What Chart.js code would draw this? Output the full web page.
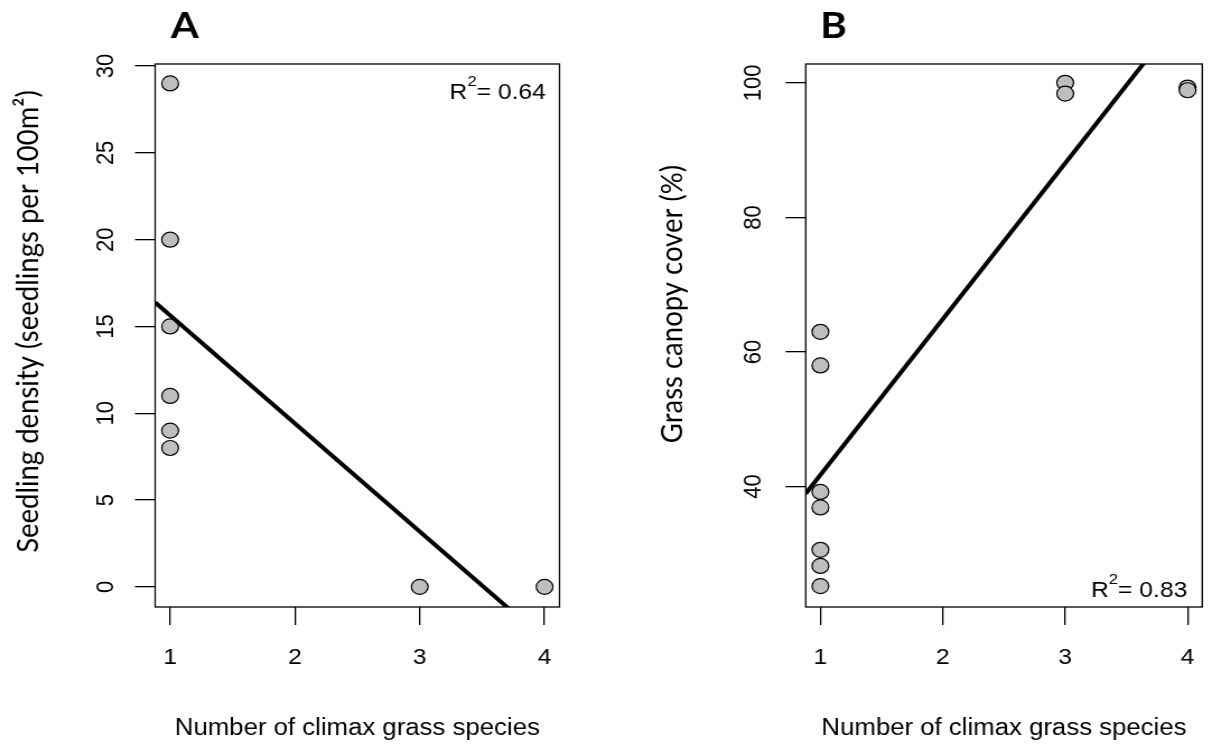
<!DOCTYPE html>
<html>
<head>
<meta charset="utf-8">
<title>Climax grass species</title>
<script src="https://cdn.jsdelivr.net/npm/chart.js@4.4.1/dist/chart.umd.min.js"></script>
<style>
    html, body { margin: 0; padding: 0; background: #fff; overflow: hidden; }
    #wrap { position: relative; width: 1212px; height: 745px; overflow: hidden; }
    /* the reference is stretched sideways, so the canvases are too */
    #wrap canvas { position: absolute; top: 0; width: 606px !important; height: 745px !important; }
    #chartA { left: 0; }
    #chartB { left: 606px; }
</style>
</head>
<body>
<div id="wrap">
    <canvas id="chartA" width="541" height="745"></canvas>
    <canvas id="chartB" width="541" height="745"></canvas>
</div>
<script>
// Shared x axis
const speciesTicks = [1, 2, 3, 4];
const speciesRange = [0.88, 4.12];

// Panel A: seedling density
const seedX = [1, 1, 1, 1, 1, 1, 3, 4];
const seedY = [29, 20, 15, 11, 9, 8, 0, 0];
const seedTicks = [0, 5, 10, 15, 20, 25, 30];
const seedRange = [-1.16, 30.12];
const seedFit = [21.87, -6.227];   // intercept, slope
const seedR2 = '0.64';

// Panel B: grass canopy cover
const coverX = [1, 1, 1, 1, 1, 1, 1, 3, 3, 4, 4];
const coverY = [63, 58, 39.2, 36.9, 30.6, 28.2, 25.2, 100, 98.4, 99.3, 98.9];
const coverTicks = [40, 60, 80, 100];
const coverRange = [22.1, 102.8];
const coverFit = [18.57, 23.16];   // intercept, slope
const coverR2 = '0.83';

const AREA_TOP = 64;
const AREA_BOTTOM = 607;
const AXIS_FONT = 'Liberation Sans';
const TITLE_FONT = 'Lato';

// R^2 label with a raised 2
function drawR2(ctx, value, right, baseline) {
    const main = '22px "' + AXIS_FONT + '"';
    const sup = '15px "' + AXIS_FONT + '"';
    const tail = '= ' + value;
    ctx.font = main;
    const wR = ctx.measureText('R').width;
    const wTail = ctx.measureText(tail).width;
    ctx.font = sup;
    const wSup = ctx.measureText('2').width;
    const x = right - wTail - wSup - wR;
    ctx.textAlign = 'left';
    ctx.textBaseline = 'alphabetic';
    ctx.font = main;
    ctx.fillText('R', x, baseline);
    ctx.font = sup;
    ctx.fillText('2', x + wR, baseline - 13);
    ctx.font = main;
    ctx.fillText(tail, x + wR + wSup, baseline);
}

// Box, panel letter, y title and R^2 (R base-graphics look)
const panelDecor = {
    id: 'panelDecor',
    afterDraw(chart, args, opts) {
        const { ctx, chartArea: a } = chart;
        ctx.save();
        ctx.strokeStyle = '#000';
        ctx.lineWidth = 1.3;
        ctx.strokeRect(a.left, a.top, a.right - a.left, a.bottom - a.top);

        ctx.fillStyle = '#000';
        ctx.textAlign = 'center';
        ctx.textBaseline = 'middle';
        ctx.font = 'bold 36px ' + TITLE_FONT;
        ctx.fillText(opts.letter, a.left + opts.letterDx, 26);

        ctx.save();
        ctx.translate(a.left - opts.titleDx, opts.titleY);
        ctx.rotate(-Math.PI / 2);
        ctx.font = '27.5px ' + TITLE_FONT;
        ctx.fillText(opts.yTitle, 0, 0);
        ctx.restore();

        const base = opts.r2Top ? a.top + opts.r2Dy : a.bottom - opts.r2Dy;
        drawR2(ctx, opts.r2, a.right - opts.r2Dx, base);
        ctx.restore();
    }
};

function makePanel(p) {
    const canvas = document.getElementById(p.id);
    const width = canvas.width;
    const [a, b] = p.fit;
    const fitLine = speciesRange.map(x => ({ x: x, y: a + b * x }));
    const points = p.xs.map((x, i) => ({ x: x, y: p.ys[i] }));
    const tickGrid = { drawOnChartArea: false, drawTicks: true, tickLength: 18, color: '#000', lineWidth: 1.3 };

    return new Chart(canvas, {
        type: 'scatter',
        data: {
            datasets: [
                {
                    data: fitLine,
                    showLine: true,
                    borderColor: '#000',
                    borderWidth: 4,
                    pointRadius: 0,
                    clip: 0
                },
                {
                    data: points,
                    pointRadius: 7.5,
                    pointBackgroundColor: '#bebebe',
                    pointBorderColor: '#000',
                    pointBorderWidth: 1.2
                }
            ]
        },
        options: {
            responsive: false,
            animation: false,
            events: [],
            layout: { padding: { left: 0, top: AREA_TOP, right: width - p.areaRight, bottom: 0 } },
            plugins: {
                legend: { display: false },
                tooltip: { enabled: false },
                panelDecor: p.decor
            },
            scales: {
                x: {
                    type: 'linear',
                    min: speciesRange[0],
                    max: speciesRange[1],
                    afterBuildTicks: s => { s.ticks = speciesTicks.map(v => ({ value: v })); },
                    afterFit: s => {
                        s.height = canvas.height - AREA_BOTTOM;
                        s.paddingLeft = 0;
                        s.paddingRight = 0;
                    },
                    grid: tickGrid,
                    border: { display: false },
                    ticks: {
                        color: '#000',
                        font: { family: AXIS_FONT, size: 22 },
                        padding: 20,
                        maxRotation: 0,
                        autoSkip: false
                    },
                    title: {
                        display: true,
                        text: 'Number of climax grass species',
                        color: '#000',
                        font: { family: AXIS_FONT, size: 23 },
                        padding: { top: 0, bottom: 3 }
                    }
                },
                y: {
                    type: 'linear',
                    min: p.range[0],
                    max: p.range[1],
                    afterBuildTicks: s => { s.ticks = p.ticks.map(v => ({ value: v })); },
                    afterFit: s => {
                        s.width = p.areaLeft;
                        s.paddingTop = 0;
                        s.paddingBottom = 0;
                    },
                    grid: tickGrid,
                    border: { display: false },
                    ticks: {
                        color: '#000',
                        font: { family: AXIS_FONT, size: 22 },
                        padding: p.yLabelPad,
                        minRotation: 90,
                        maxRotation: 90,
                        crossAlign: 'center',
                        autoSkip: false
                    }
                }
            }
        },
        plugins: [panelDecor]
    });
}

document.addEventListener('DOMContentLoaded', () => {
    makePanel({
        id: 'chartA',
        xs: seedX, ys: seedY, ticks: seedTicks, range: seedRange, fit: seedFit,
        areaLeft: 138.5, areaRight: 499.5, yLabelPad: 13,
        decor: {
            letter: 'A', letterDx: 26.5,
            yTitle: 'Seedling density (seedlings per 100m²)', titleDx: 113, titleY: 321.5,
            r2: seedR2, r2Top: true, r2Dx: 12.2, r2Dy: 35
        }
    });
    makePanel({
        id: 'chartB',
        xs: coverX, ys: coverY, ticks: coverTicks, range: coverRange, fit: coverFit,
        areaLeft: 178.3, areaRight: 539, yLabelPad: 10,
        decor: {
            letter: 'B', letterDx: 24.7,
            yTitle: 'Grass canopy cover (%)', titleDx: 119, titleY: 304,
            r2: coverR2, r2Top: false, r2Dx: 13.4, r2Dy: 10.3
        }
    });
});
</script>
</body>
</html>
